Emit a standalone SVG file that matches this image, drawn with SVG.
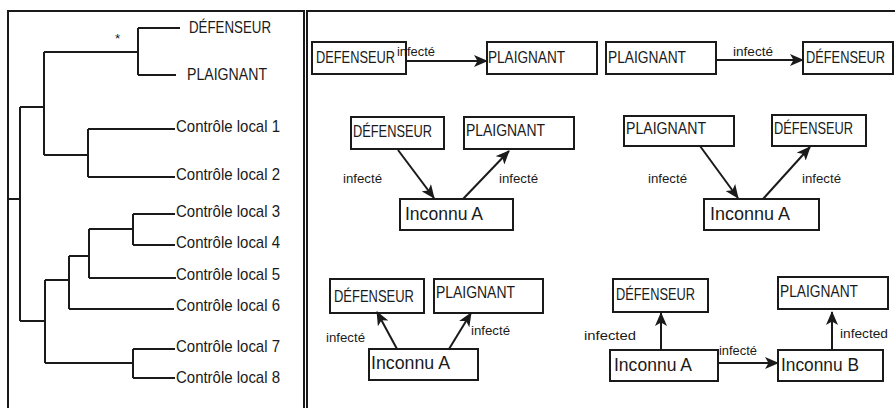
<svg xmlns="http://www.w3.org/2000/svg" width="895" height="408" viewBox="0 0 895 408">
<style>
.frame{fill:none;stroke:#1a1a1a;stroke-width:2}
.tree{fill:none;stroke:#1a1a1a;stroke-width:2}
.box{fill:#fff;stroke:#1a1a1a;stroke-width:2}
.edge{fill:none;stroke:#1a1a1a;stroke-width:2}
text{font-family:"Liberation Sans",Arial,sans-serif;fill:#1a1a1a}
.lbl{font-size:17px}
.big{font-size:18px}
.tl{font-size:17px}
.sm{font-size:13.5px}
</style>
<defs>
<marker id="ah" markerUnits="userSpaceOnUse" markerWidth="14" markerHeight="12" refX="13" refY="6" orient="auto">
<path d="M0,0 L14,6 L0,12 L3.5,6 z" fill="#1a1a1a"/>
</marker>
</defs>
<rect class="frame" x="8" y="11" width="296" height="410"/>
<rect class="frame" x="307" y="11" width="600" height="410"/>

<g id="tree">
<path class="tree" d="M8,199 H20 M20,107 V321 M20,107 H44 M44,52 V155 M44,52 H138 M138,28 V75 M138,28 H180 M138,75 H176 M44,155 H88 M88,129 V177 M88,129 H175 M88,177 H175 M20,321 H45 M45,280 V363 M45,280 H69 M69,256 V309 M69,256 H89 M89,229 V278 M89,229 H133 M133,214 V245 M133,214 H175 M133,245 H175 M89,278 H176 M69,309 H174 M45,363 H133 M133,349 V378 M133,349 H175 M133,378 H175"/>
<text class="sm" x="115" y="43">*</text>
<text class="tl" x="189" y="33" textLength="82" lengthAdjust="spacingAndGlyphs">DÉFENSEUR</text>
<text class="tl" x="187" y="80" textLength="80" lengthAdjust="spacingAndGlyphs">PLAIGNANT</text>
<text class="tl" x="176" y="132" textLength="104" lengthAdjust="spacingAndGlyphs">Contrôle local 1</text>
<text class="tl" x="176" y="180" textLength="104" lengthAdjust="spacingAndGlyphs">Contrôle local 2</text>
<text class="tl" x="176" y="217" textLength="104" lengthAdjust="spacingAndGlyphs">Contrôle local 3</text>
<text class="tl" x="176" y="248" textLength="104" lengthAdjust="spacingAndGlyphs">Contrôle local 4</text>
<text class="tl" x="176" y="280" textLength="104" lengthAdjust="spacingAndGlyphs">Contrôle local 5</text>
<text class="tl" x="176" y="311" textLength="104" lengthAdjust="spacingAndGlyphs">Contrôle local 6</text>
<text class="tl" x="176" y="352" textLength="104" lengthAdjust="spacingAndGlyphs">Contrôle local 7</text>
<text class="tl" x="176" y="383" textLength="104" lengthAdjust="spacingAndGlyphs">Contrôle local 8</text>
</g>

<g id="r1-defenseur"><rect class="box" x="312" y="42" width="94" height="32"/><text class="lbl" x="316" y="63" textLength="79" lengthAdjust="spacingAndGlyphs">DEFENSEUR</text></g>
<g id="r1-plaignant"><rect class="box" x="487" y="42" width="110" height="32"/><text class="lbl" x="488" y="63" textLength="77" lengthAdjust="spacingAndGlyphs">PLAIGNANT</text></g>
<g id="r1b-plaignant"><rect class="box" x="606" y="42" width="110" height="32"/><text class="lbl" x="608" y="63" textLength="78" lengthAdjust="spacingAndGlyphs">PLAIGNANT</text></g>
<g id="r1b-defenseur"><rect class="box" x="803" y="42" width="90" height="32"/><text class="lbl" x="806" y="63" textLength="79" lengthAdjust="spacingAndGlyphs">DÉFENSEUR</text></g>

<g id="r2-defenseur"><rect class="box" x="351" y="117" width="93" height="32"/><text class="lbl" x="353" y="137" textLength="79" lengthAdjust="spacingAndGlyphs">DÉFENSEUR</text></g>
<g id="r2-plaignant"><rect class="box" x="464" y="117" width="110" height="32"/><text class="lbl" x="466" y="136" textLength="79" lengthAdjust="spacingAndGlyphs">PLAIGNANT</text></g>
<g id="r2-inconnuA"><rect class="box" x="400" y="199" width="113" height="31"/><text class="big" x="405" y="220" textLength="78" lengthAdjust="spacingAndGlyphs">Inconnu A</text></g>
<g id="r2b-plaignant"><rect class="box" x="624" y="116" width="110" height="30"/><text class="lbl" x="626" y="134" textLength="80" lengthAdjust="spacingAndGlyphs">PLAIGNANT</text></g>
<g id="r2b-defenseur"><rect class="box" x="772" y="115" width="94" height="31"/><text class="lbl" x="774" y="134" textLength="79" lengthAdjust="spacingAndGlyphs">DÉFENSEUR</text></g>
<g id="r2b-inconnuA"><rect class="box" x="704" y="199" width="115" height="31"/><text class="big" x="710" y="220" textLength="80" lengthAdjust="spacingAndGlyphs">Inconnu A</text></g>

<g id="r3-defenseur"><rect class="box" x="330" y="279" width="94" height="34"/><text class="lbl" x="334" y="302" textLength="80" lengthAdjust="spacingAndGlyphs">DÉFENSEUR</text></g>
<g id="r3-plaignant"><rect class="box" x="434" y="279" width="109" height="34"/><text class="lbl" x="436" y="298" textLength="79" lengthAdjust="spacingAndGlyphs">PLAIGNANT</text></g>
<g id="r3-inconnuA"><rect class="box" x="369" y="349" width="109" height="31"/><text class="big" x="371" y="369" textLength="79" lengthAdjust="spacingAndGlyphs">Inconnu A</text></g>
<g id="r3b-defenseur"><rect class="box" x="613" y="279" width="95" height="33"/><text class="lbl" x="616" y="300" textLength="79" lengthAdjust="spacingAndGlyphs">DÉFENSEUR</text></g>
<g id="r3b-plaignant"><rect class="box" x="778" y="277" width="110" height="32"/><text class="lbl" x="780" y="297" textLength="78" lengthAdjust="spacingAndGlyphs">PLAIGNANT</text></g>
<g id="r3b-inconnuA"><rect class="box" x="610" y="350" width="108" height="31"/><text class="big" x="614" y="371" textLength="78" lengthAdjust="spacingAndGlyphs">Inconnu A</text></g>
<g id="r3b-inconnuB"><rect class="box" x="778" y="350" width="105" height="31"/><text class="big" x="781" y="371" textLength="78" lengthAdjust="spacingAndGlyphs">Inconnu B</text></g>

<g id="connectors">
<line class="edge" x1="406" y1="61" x2="487" y2="61" marker-end="url(#ah)"/>
<line class="edge" x1="716" y1="60" x2="803" y2="60" marker-end="url(#ah)"/>
<line class="edge" x1="398" y1="150" x2="434" y2="198" marker-end="url(#ah)"/>
<line class="edge" x1="463" y1="199" x2="509" y2="151" marker-end="url(#ah)"/>
<line class="edge" x1="700" y1="146" x2="738" y2="198" marker-end="url(#ah)"/>
<line class="edge" x1="763" y1="199" x2="810" y2="147" marker-end="url(#ah)"/>
<line class="edge" x1="397" y1="349" x2="377" y2="312" marker-end="url(#ah)"/>
<line class="edge" x1="449" y1="349" x2="471" y2="313" marker-end="url(#ah)"/>
<line class="edge" x1="661" y1="350" x2="661" y2="313" marker-end="url(#ah)"/>
<line class="edge" x1="832" y1="350" x2="832" y2="312" marker-end="url(#ah)"/>
<line class="edge" x1="718" y1="363" x2="778" y2="363" marker-end="url(#ah)"/>
<text class="sm" x="397" y="56" textLength="38" lengthAdjust="spacingAndGlyphs">infecté</text>
<text class="sm" x="733" y="56" textLength="40" lengthAdjust="spacingAndGlyphs">infecté</text>
<text class="sm" x="343" y="183" textLength="39" lengthAdjust="spacingAndGlyphs">infecté</text>
<text class="sm" x="499" y="183" textLength="39" lengthAdjust="spacingAndGlyphs">infecté</text>
<text class="sm" x="648" y="183" textLength="39" lengthAdjust="spacingAndGlyphs">infecté</text>
<text class="sm" x="802" y="183" textLength="39" lengthAdjust="spacingAndGlyphs">infecté</text>
<text class="sm" x="326" y="342" textLength="39" lengthAdjust="spacingAndGlyphs">infecté</text>
<text class="sm" x="471" y="335" textLength="39" lengthAdjust="spacingAndGlyphs">infecté</text>
<text class="sm" x="584" y="340" textLength="52" lengthAdjust="spacingAndGlyphs">infected</text>
<text class="sm" x="840" y="338" textLength="48" lengthAdjust="spacingAndGlyphs">infected</text>
<text class="sm" x="719" y="355" textLength="38" lengthAdjust="spacingAndGlyphs">infecté</text>
</g>
</svg>
